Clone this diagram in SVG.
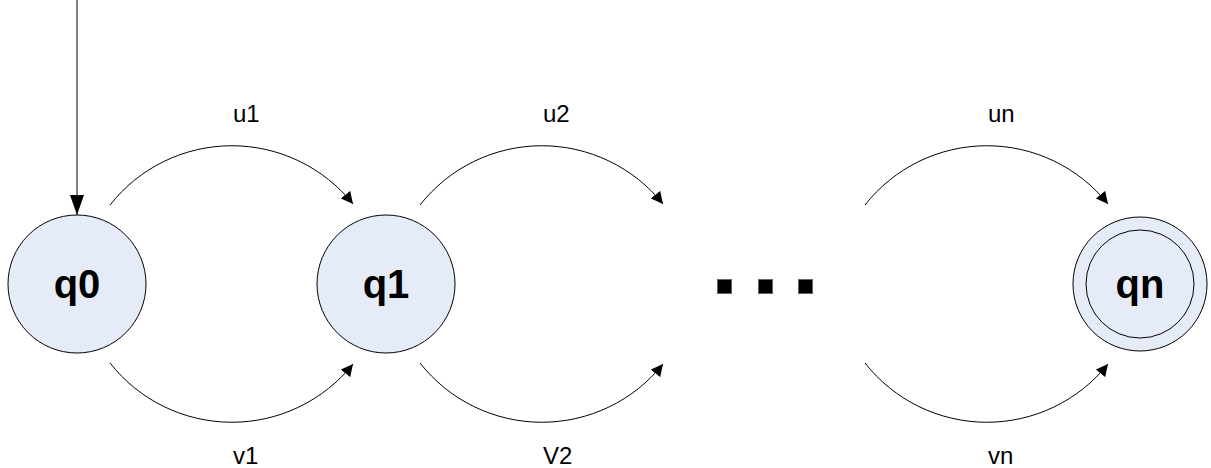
<svg xmlns="http://www.w3.org/2000/svg" width="1211" height="468" viewBox="0 0 1211 468">
  <style>
    .state { fill: #e6ecf7; stroke: #000; stroke-width: 1; }
    .state-name { font-family: "Liberation Sans", Arial, sans-serif; font-weight: bold; font-size: 40px; fill: #000; text-anchor: middle; }
    .edge { fill: none; stroke: #000; stroke-width: 1; }
    .label { font-family: "Liberation Sans", Arial, sans-serif; font-size: 24px; fill: #000; }
    .dot { fill: #000; stroke: #666; stroke-width: 1; }
  </style>
  <defs>
    <marker id="arrow" viewBox="0 0 12 12" refX="12" refY="6" markerWidth="12" markerHeight="12" markerUnits="userSpaceOnUse" orient="auto">
      <path d="M0,0 L12,6 L0,12 Z" fill="#000"/>
    </marker>
    <marker id="arrow-start" viewBox="0 0 20 14" refX="20" refY="7" markerWidth="20" markerHeight="14" markerUnits="userSpaceOnUse" orient="auto">
      <path d="M0,0 L20,7 L0,14 Z" fill="#000"/>
    </marker>
  </defs>

  <rect width="1211" height="468" fill="#fff"/>

  <g id="connectors">
    <!-- start arrow -->
    <line class="edge" x1="77" y1="0" x2="77" y2="215" marker-end="url(#arrow-start)"/>
    <!-- q0 -> q1 -->
    <path class="edge" d="M110,205 A155,155 0 0 1 353,204" marker-end="url(#arrow)"/>
    <path class="edge" d="M110,363 A155,155 0 0 0 353,364" marker-end="url(#arrow)"/>
    <!-- q1 -> ... -->
    <path class="edge" d="M420,205 A155,155 0 0 1 663,204" marker-end="url(#arrow)"/>
    <path class="edge" d="M420,363 A155,155 0 0 0 663,364" marker-end="url(#arrow)"/>
    <!-- ... -> qn -->
    <path class="edge" d="M865,205 A155,155 0 0 1 1108,204" marker-end="url(#arrow)"/>
    <path class="edge" d="M865,363 A155,155 0 0 0 1108,364" marker-end="url(#arrow)"/>
  </g>

  <g id="labels">
    <text class="label" x="233" y="122">u1</text>
    <text class="label" x="543" y="122">u2</text>
    <text class="label" x="988" y="122">un</text>
    <text class="label" x="233" y="464">v1</text>
    <text class="label" x="543" y="464">V2</text>
    <text class="label" x="988" y="464">vn</text>
  </g>

  <g id="q0">
    <circle class="state" cx="77" cy="284" r="69"/>
    <text class="state-name" x="77" y="298">q0</text>
  </g>
  <g id="q1">
    <circle class="state" cx="386" cy="284" r="69"/>
    <text class="state-name" x="386" y="298">q1</text>
  </g>
  <g id="ellipsis">
    <rect class="dot" x="717.5" y="279.5" width="14" height="14"/>
    <rect class="dot" x="758.5" y="279.5" width="14" height="14"/>
    <rect class="dot" x="798.5" y="279.5" width="14" height="14"/>
  </g>
  <g id="qn">
    <circle class="state" cx="1140" cy="284" r="67"/>
    <circle class="state" cx="1140" cy="284" r="54"/>
    <text class="state-name" x="1140" y="298">qn</text>
  </g>
</svg>
